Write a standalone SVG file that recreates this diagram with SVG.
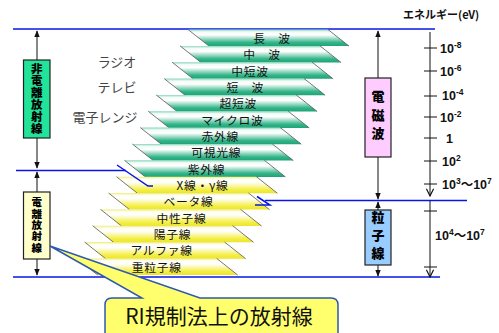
<svg xmlns="http://www.w3.org/2000/svg" xmlns:xlink="http://www.w3.org/1999/xlink" width="499" height="333" viewBox="0 0 499 333">
<style>
.jp{font-family:"Noto Sans CJK JP","Noto Sans",sans-serif}
.bl{font-family:"Noto Sans CJK JP","Noto Sans",sans-serif;font-size:11.8px;letter-spacing:0.7px;fill:#111;text-anchor:middle}
.gl{font-family:"Noto Sans CJK JP","Noto Sans",sans-serif;font-size:13px;fill:#444;text-anchor:middle}
.vt{font-family:"Noto Sans CJK JP",sans-serif;font-weight:900;fill:#000;text-anchor:middle;writing-mode:vertical-rl}
.ev{font-family:"Liberation Sans","Noto Sans CJK JP",sans-serif;font-weight:bold;font-size:12.5px;fill:#111}
.sup{font-size:8.5px}
.blue{stroke:#0a14e6;stroke-width:1.5;fill:none}
.ax{stroke:#111;stroke-width:1;fill:none}
.box{stroke:#222;stroke-width:1.2}
.diag{stroke:#555;stroke-width:0.8;fill:none}
</style>
<defs>
<linearGradient id="gG" x1="0" y1="0" x2="0" y2="1">
<stop offset="0" stop-color="#86d8b8"/>
<stop offset="0.14" stop-color="#f2fbf7"/>
<stop offset="0.33" stop-color="#ffffff"/>
<stop offset="0.78" stop-color="#33b589"/>
<stop offset="1" stop-color="#1fa476"/>
</linearGradient>
<linearGradient id="gY" x1="0" y1="0" x2="0" y2="1">
<stop offset="0" stop-color="#efeb78"/>
<stop offset="0.14" stop-color="#fffff2"/>
<stop offset="0.33" stop-color="#ffffff"/>
<stop offset="0.78" stop-color="#f4ef44"/>
<stop offset="1" stop-color="#ece42c"/>
</linearGradient>
<g id="bandG">
<path d="M0,0 H140 L161,16.6 H21 Z" fill="url(#gG)"/>
<path class="diag" d="M0,0 L21,16.6 M140,0 L161,16.6"/>
</g>
<g id="bandY">
<path d="M0,0 H140 L161,16.6 H21 Z" fill="url(#gY)"/>
<path class="diag" d="M0,0 L21,16.6 M140,0 L161,16.6"/>
</g>
<marker id="ah" viewBox="0 0 10 10" refX="9" refY="5" markerWidth="7" markerHeight="7" markerUnits="userSpaceOnUse" orient="auto-start-reverse">
<path d="M0,1 L10,5 L0,9 Z" fill="#111"/>
</marker>
<marker id="av" viewBox="0 0 10 10" refX="9" refY="5" markerWidth="9" markerHeight="9" markerUnits="userSpaceOnUse" orient="auto">
<path d="M1,1 L9,5 L1,9" fill="none" stroke="#111" stroke-width="1.3"/>
</marker>
</defs>

<g id="connectors">
<path class="blue" d="M13,29 H435"/>
<path class="blue" d="M16,170.5 H126"/>
<path class="blue" d="M265,200.5 H467"/>
<path class="blue" d="M13,277 H440"/>
<line class="ax" x1="37" y1="31" x2="37" y2="168" marker-start="url(#ah)" marker-end="url(#ah)"/>
<line class="ax" x1="37" y1="172" x2="37" y2="275" marker-start="url(#ah)" marker-end="url(#ah)"/>
<line class="ax" x1="378" y1="31" x2="378" y2="199" marker-start="url(#ah)" marker-end="url(#ah)"/>
<line class="ax" x1="378" y1="202" x2="378" y2="276" marker-start="url(#ah)" marker-end="url(#ah)"/>
<line class="ax" x1="430" y1="32" x2="430" y2="196" marker-end="url(#av)"/>
<line class="ax" x1="430" y1="201" x2="430" y2="277" marker-end="url(#av)"/>
<path class="ax" d="M424,48 H437 M424,71 H437 M424,96 H437 M424,117 H437 M424,138 H437 M424,161 H437 M424,184 H437 M424,211 H437 M424,267 H437"/>
</g>

<g id="band-long" transform="translate(188,29.5)"><use href="#bandG"/><text class="bl" x="84" y="13.3">長　波</text></g>
<g id="band-medium" transform="translate(180.05,45.9)"><use href="#bandG"/><text class="bl" x="82" y="13.3">中　波</text></g>
<g id="band-medshort" transform="translate(172.1,62.2)"><use href="#bandG"/><text class="bl" x="78" y="13.3">中短波</text></g>
<g id="band-short" transform="translate(164.15,78.6)"><use href="#bandG"/><text class="bl" x="81" y="13.3">短　波</text></g>
<g id="band-vhf" transform="translate(156.2,94.9)"><use href="#bandG"/><text class="bl" x="82" y="13.3">超短波</text></g>
<g id="band-micro" transform="translate(148.25,111.3)"><use href="#bandG"/><text class="bl" x="84" y="13.3">マイクロ波</text></g>
<g id="band-ir" transform="translate(140.3,127.6)"><use href="#bandG"/><text class="bl" x="80" y="13.3">赤外線</text></g>
<g id="band-visible" transform="translate(132.35,144)"><use href="#bandG"/><text class="bl" x="84" y="13.3">可視光線</text></g>
<g id="band-uv" transform="translate(124.4,160.3)"><use href="#bandG"/><text class="bl" x="82" y="13.3">紫外線</text></g>
<g id="band-xray" transform="translate(116.45,176.7)"><use href="#bandY"/><text class="bl" x="86" y="13.3">X線・γ線</text></g>
<g id="band-beta" transform="translate(108.5,193)"><use href="#bandY"/><text class="bl" x="80" y="13.3">ベータ線</text></g>
<g id="band-neutron" transform="translate(100.55,209.4)"><use href="#bandY"/><text class="bl" x="81" y="13.3">中性子線</text></g>
<g id="band-proton" transform="translate(92.6,225.7)"><use href="#bandY"/><text class="bl" x="80" y="13.3">陽子線</text></g>
<g id="band-alpha" transform="translate(84.65,242.1)"><use href="#bandY"/><text class="bl" x="77" y="13.3">アルファ線</text></g>
<g id="band-heavy" transform="translate(76.7,258.4)"><use href="#bandY"/><text class="bl" x="80" y="13.3">重粒子線</text></g>

<g id="hooks">
<path class="blue" d="M117,165 L148,186 H153"/>
<path class="blue" d="M257,196.5 L270,205 H255"/>
</g>

<g id="examples">
<text class="gl" x="117" y="67">ラジオ</text>
<text class="gl" x="117" y="92">テレビ</text>
<text class="gl" x="105" y="122">電子レンジ</text>
</g>

<g id="non-ionizing">
<rect class="box" x="23.5" y="60" width="26.5" height="78" fill="#22e39a"/>
<text class="vt" x="36.7" y="99" font-size="11.5" letter-spacing="0.5">非電離放射線</text>
</g>

<g id="ionizing">
<rect class="box" x="23.5" y="192" width="26.5" height="67" fill="#ffffcc"/>
<text class="vt" x="36.7" y="225.5" font-size="10.5" letter-spacing="0.8">電離放射線</text>
</g>

<g id="em-wave">
<rect class="box" x="365" y="78" width="26" height="79" fill="#ffccff"/>
<text class="vt" x="378" y="117.5" font-size="13" letter-spacing="5.5">電磁波</text>
</g>

<g id="particle">
<rect class="box" x="365" y="210" width="26" height="55" fill="#99ccff"/>
<text class="vt" x="378" y="238" font-size="13" letter-spacing="5">粒子線</text>
</g>

<g id="energy-scale">
<text class="jp" x="403" y="19" font-size="11" font-weight="bold" fill="#111">エネルギー(eV)</text>
<text class="ev" x="440" y="53">10<tspan class="sup" dy="-5">-8</tspan></text>
<text class="ev" x="440" y="76">10<tspan class="sup" dy="-5">-6</tspan></text>
<text class="ev" x="442" y="100">10<tspan class="sup" dy="-5">-4</tspan></text>
<text class="ev" x="440" y="122">10<tspan class="sup" dy="-5">-2</tspan></text>
<text class="ev" x="446" y="143">1</text>
<text class="ev" x="442" y="166">10<tspan class="sup" dy="-5">2</tspan></text>
<text class="ev" x="442" y="189">10<tspan class="sup" dy="-5">3</tspan><tspan dy="5">～10</tspan><tspan class="sup" dy="-5">7</tspan></text>
<text class="ev" x="435" y="240">10<tspan class="sup" dy="-5">4</tspan><tspan dy="5">～10</tspan><tspan class="sup" dy="-5">7</tspan></text>
</g>

<g id="callout">
<path d="M112,298 H142 L50,246 L200,298 H331 Q338,298 338,305 V340 H105 V305 Q105,298 112,298 Z" fill="#ffff6e" stroke="#2f58b0" stroke-width="1.5"/>
<text class="jp" x="219" y="324" font-size="21" fill="#111" text-anchor="middle">RI規制法上の放射線</text>
</g>
</svg>
